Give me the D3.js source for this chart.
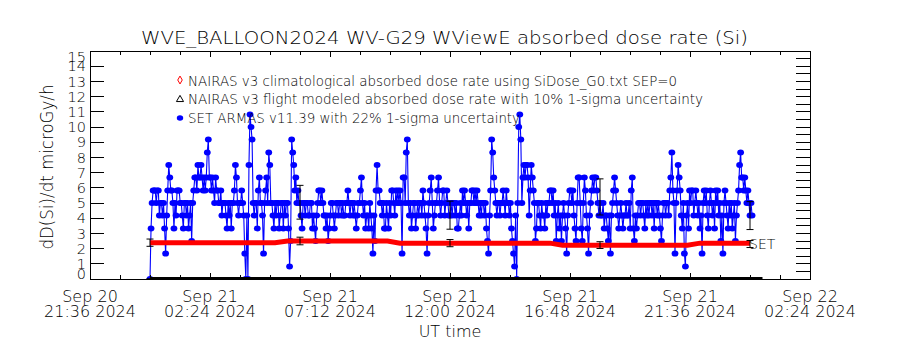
<!DOCTYPE html>
<html lang="en">
<head>
<meta charset="UTF-8">
<title>WVE_BALLOON2024 WV-G29 absorbed dose rate</title>
<script src="https://d3js.org/d3.v7.min.js"></script>
<style>
  body { margin: 0; background: #fff; }
  text { font-family: "DejaVu Sans", sans-serif; font-weight: 200; fill: #000; }
</style>
</head>
<body>
<script>
// SET ARMAS dose rate, microGy/h, one value every 2.5 min from Sep 21 00:00 UT
const setDose = [
  // 00 UT
  0, 3.33, 5, 5.83, 5.83, 5.83, 5, 5.83, 5.83, 4.17, 5, 5, 4.17, 5, 3.33, 1.67, 4.17, 5.83, 7.5, 6.67, 5.83, 5.83, 5, 3.33,
  // 01
  5, 4.17, 5.83, 5.83, 5.83, 5, 5, 4.17, 3.33, 5, 5, 4.17, 5, 3.33, 4.17, 5, 2.5, 5, 5.83, 6.67, 6.67, 5.83, 7.5, 6.67,
  // 02
  6.67, 7.5, 6.67, 5.83, 6.67, 5.83, 6.67, 8.33, 9.17, 6.67, 6.67, 5.83, 6.67, 5.83, 5, 6.67, 5.83, 5.83, 5, 5, 5.83, 4.17, 5, 5,
  // 03
  5, 4.17, 3.33, 5, 4.17, 5, 3.33, 5, 5, 5.83, 7.5, 6.67, 5, 4.17, 5, 5, 5.83, 5, 4.17, 1.67, 0, 4.17, 0, 7.5,
  // 04
  10.83, 10, 9.17, 5, 4.17, 5, 5, 3.33, 5.83, 6.67, 5, 5, 4.17, 1.67, 5, 5.83, 6.67, 5, 8.33, 7.5, 5, 5, 4.17, 3.33,
  // 05
  5, 4.17, 5, 5, 3.33, 4.17, 5, 5, 3.33, 5, 4.17, 5, 5, 3.33, 0.83, 2.5, 9.17, 8.33, 7.5, 5.83, 6.67, 5, 5.83, 5,
  // 06
  5, 4.17, 3.33, 5, 5, 4.17, 5, 5, 4.17, 4.17, 5, 5, 3.33, 4.17, 3.33, 2.5, 4.17, 5, 5.83, 5.83, 5, 5.83, 5, 4.17,
  // 07
  4.17, 3.33, 4.17, 2.5, 3.33, 4.17, 5, 5, 4.17, 3.33, 4.17, 5, 5, 4.17, 5, 5, 4.17, 5, 4.17, 4.17, 5, 5, 5.83, 5,
  // 08
  4.17, 5, 5, 4.17, 5, 4.17, 3.33, 4.17, 5, 5, 5.83, 6.67, 5, 4.17, 5, 3.33, 4.17, 4.17, 3.33, 5, 4.17, 3.33, 1.67, 4.17,
  // 09
  2.5, 5.83, 7.5, 5.83, 5.83, 5, 5, 4.17, 5, 3.33, 3.33, 5, 4.17, 3.33, 5, 4.17, 5.83, 5.83, 5, 4.17, 5.83, 5, 5.83, 5,
  // 10
  5.83, 5, 1.67, 6.67, 6.67, 5, 8.33, 9.17, 5, 4.17, 5, 3.33, 4.17, 5, 5, 3.33, 4.17, 5, 4.17, 5, 5, 4.17, 5.83, 5,
  // 11
  4.17, 3.33, 1.67, 4.17, 5, 5.83, 6.67, 5, 3.33, 4.17, 5, 5, 5.83, 6.67, 5, 4.17, 5, 5.83, 5.83, 4.17, 5, 5.83, 5, 4.17,
  // 12
  4.17, 5, 4.17, 5, 5, 4.17, 5, 3.33, 3.33, 4.17, 5, 4.17, 5.83, 5, 5.83, 5, 4.17, 5, 3.33, 5, 5, 5.83, 5.83, 5,
  // 13
  5.83, 5, 5.83, 5, 4.17, 5, 4.17, 5, 5, 4.17, 5, 3.33, 2.5, 1.67, 4.17, 5.83, 9.17, 8.33, 6.67, 5.83, 5, 4.17, 5, 5,
  // 14
  4.17, 5, 5, 5.83, 5, 4.17, 5.83, 5, 5, 4.17, 5, 3.33, 2.5, 1.67, 0.83, 4.17, 0, 5, 10, 10.83, 9.17, 5, 6.67, 7.5,
  // 15
  6.67, 7.5, 7.5, 6.67, 4.17, 5.83, 7.5, 6.67, 5.83, 5, 2.5, 3.33, 5, 5, 4.17, 3.33, 5, 4.17, 4.17, 3.33, 5, 4.17, 5, 5,
  // 16
  5.83, 5.83, 5, 5.83, 4.17, 5, 2.5, 4.17, 5, 3.33, 4.17, 2.5, 4.17, 5, 4.17, 3.33, 1.67, 4.17, 5, 5.83, 5.83, 5, 5.83, 4.17,
  // 17
  3.33, 2.5, 5, 6.67, 6.67, 5, 3.33, 2.5, 5, 6.67, 5.83, 4.17, 3.33, 1.67, 4.17, 5, 5.83, 6.67, 5.83, 6.67, 6.67, 5.83, 5, 4.17,
  // 18
  5, 4.17, 4.17, 5, 3.33, 4.17, 4.17, 3.33, 2.5, 4.17, 1.67, 4.17, 5, 5.83, 6.67, 5.83, 5, 4.17, 3.33, 4.17, 5, 4.17, 3.33, 4.17,
  // 19
  4.17, 5, 4.17, 4.17, 5, 3.33, 5.83, 6.67, 3.33, 2.5, 4.17, 3.33, 4.17, 5, 5, 4.17, 5, 5, 4.17, 3.33, 5, 4.17, 5, 4.17,
  // 20
  5, 5, 4.17, 5, 3.33, 5, 5, 4.17, 5, 4.17, 3.33, 2.5, 4.17, 5, 5, 4.17, 5, 5, 4.17, 5.83, 6.67, 8.33, 5.83, 5,
  // 21
  1.67, 5, 5.83, 7.5, 6.67, 5.83, 4.17, 3.33, 5, 1.67, 0.83, 4.17, 5, 3.33, 5.83, 5, 5.83, 5.83, 4.17, 5, 5.83, 5, 4.17, 5,
  // 22
  3.33, 4.17, 1.67, 5, 5.83, 5, 5.83, 4.17, 3.33, 5, 5.83, 5, 4.17, 5, 3.33, 5.83, 5, 5.83, 4.17, 5, 2.5, 4.17, 1.67, 5,
  // 23
  5.83, 5, 4.17, 3.33, 5, 4.17, 5, 3.33, 4.17, 5, 2.5, 4.17, 5, 5.83, 7.5, 8.33, 6.67, 6.67, 5.83, 6.67, 5.83, 5, 5.83, 5,
  // 00 Sep 22
  4.17, 5, 4.17
];

// NAIRAS climatological (red), every 30 min from Sep 21 00:00 UT
const nairasClim = [
  2.39, 2.39, 2.39, 2.39, 2.39, 2.39, 2.39, 2.39, 2.39, 2.39, 2.39,
  2.5, 2.5, 2.5, 2.5, 2.5, 2.5, 2.5, 2.5, 2.5,
  2.36, 2.36, 2.36, 2.36, 2.36, 2.36, 2.36, 2.36, 2.36, 2.36, 2.36, 2.36, 2.36,
  2.22, 2.22, 2.22, 2.22, 2.22, 2.22, 2.22, 2.22, 2.22, 2.22, 2.22,
  2.36, 2.36, 2.36, 2.36, 2.36
];

// NAIRAS flight modeled (black), every 30 min
const nairasFlight = [
  0, 0, 0, 0, 0, 0, 0, 0, 0, 0, 0, 0, 0, 0, 0, 0, 0, 0, 0, 0, 0, 0, 0, 0, 0,
  0, 0, 0, 0, 0, 0, 0, 0, 0, 0, 0, 0, 0, 0, 0, 0, 0, 0, 0, 0, 0, 0, 0, 0, 0
];

// error bars every 6 h
const errHours = [0, 6, 12, 18, 24];
const setMean = [0, 5.05, 4.2, 5.4, 4.17];
const climMean = [2.39, 2.5, 2.36, 2.23, 2.3];
const setSigma = 0.22, climSigma = 0.10;

const yTicks = d3.range(0, 16);
const legendLabels = [
  "NAIRAS v3 climatological absorbed dose rate using SiDose_G0.txt SEP=0",
  "NAIRAS v3 flight modeled absorbed dose rate with 10% 1-sigma uncertainty",
  "SET ARMAS v11.39 with 22% 1-sigma uncertainty"
];

const width = 900, height = 350;
const pLeft = 90, pRight = 810, pTop = 51, pBottom = 279;
const MIN = 60000;
const axisStart = Date.UTC(2024, 8, 20, 21, 36);
const axisEnd = Date.UTC(2024, 8, 22, 2, 24);
const t0 = Date.UTC(2024, 8, 21, 0, 0);

const svg = d3.select("body").append("svg")
    .attr("width", width)
    .attr("height", height);

const x = d3.scaleUtc().domain([axisStart, axisEnd]).range([pLeft, pRight]);
const y = d3.scaleLinear().domain([0, 15]).range([pBottom, pTop]);

svg.append("clipPath").attr("id", "plotclip")
  .append("rect")
    .attr("x", pLeft).attr("y", pTop)
    .attr("width", pRight - pLeft).attr("height", pBottom - pTop + 0.5);

const plot = svg.append("g").attr("clip-path", "url(#plotclip)");

const setData = setDose.map((v, i) => ({t: new Date(t0 + i * 2.5 * MIN), v: v}));
const climData = nairasClim.map((v, i) => ({t: new Date(t0 + i * 30 * MIN), v: v}));
const flightData = nairasFlight.map((v, i) => ({t: new Date(t0 + i * 30 * MIN), v: v}));

const line = d3.line().x(d => x(d.t)).y(d => y(d.v));

// SET ARMAS
plot.append("path")
    .datum(setData)
    .attr("d", line)
    .attr("fill", "none")
    .attr("stroke", "#0000ff")
    .attr("stroke-width", 1.1);

plot.selectAll("ellipse.set")
    .data(setData)
    .enter().append("ellipse")
    .attr("class", "set")
    .attr("cx", d => x(d.t))
    .attr("cy", d => y(d.v))
    .attr("rx", 3.4)
    .attr("ry", 3)
    .attr("fill", "#0000ff");

// NAIRAS climatological
plot.append("path")
    .datum(climData)
    .attr("d", line)
    .attr("fill", "none")
    .attr("stroke", "#ff0000")
    .attr("stroke-width", 5);

// NAIRAS flight modeled
plot.append("path")
    .datum(flightData)
    .attr("d", line)
    .attr("fill", "none")
    .attr("stroke", "#000")
    .attr("stroke-width", 4);

// error bars
function errorBars(means, sigma) {
  means.forEach((m, i) => {
    const xi = x(new Date(t0 + errHours[i] * 60 * MIN));
    const lo = y(m * (1 - sigma)), hi = y(m * (1 + sigma));
    const g = plot.append("g").attr("stroke", "#000").attr("stroke-width", 1);
    g.append("line").attr("x1", xi).attr("x2", xi).attr("y1", lo).attr("y2", hi);
    g.append("line").attr("x1", xi - 3.5).attr("x2", xi + 3.5).attr("y1", lo).attr("y2", lo);
    g.append("line").attr("x1", xi - 3.5).attr("x2", xi + 3.5).attr("y1", hi).attr("y2", hi);
  });
}
errorBars(setMean, setSigma);
errorBars(climMean, climSigma);

// SET label at the end of the red curve
const lastClim = climData[climData.length - 1];
svg.append("text")
    .attr("x", x(lastClim.t) - 1)
    .attr("y", y(lastClim.v) + 5.5)
    .attr("font-size", 14)
    .text("SET");

// axes box
svg.append("rect")
    .attr("x", pLeft).attr("y", pTop)
    .attr("width", pRight - pLeft).attr("height", pBottom - pTop)
    .attr("fill", "none").attr("stroke", "#000").attr("stroke-width", 1)
    .attr("shape-rendering", "crispEdges");

const ticks = svg.append("g").attr("stroke", "#000").attr("stroke-width", 1)
    .attr("shape-rendering", "crispEdges");

// y ticks: left every unit, right every half unit
ticks.selectAll("line.yl").data(yTicks).enter().append("line")
    .attr("x1", pLeft).attr("x2", pLeft + 14)
    .attr("y1", d => y(d)).attr("y2", d => y(d));
ticks.selectAll("line.yr").data(d3.range(0, 15.5, 0.5)).enter().append("line")
    .attr("x1", pRight).attr("x2", pRight - 14)
    .attr("y1", d => y(d)).attr("y2", d => y(d));

// x ticks: minor every 72 min, major every 4.8 h
const xMinor = d3.range(0, 25).map(k => ({t: new Date(axisStart + k * 72 * MIN), major: k % 4 === 0}));
ticks.selectAll("line.xb").data(xMinor).enter().append("line")
    .attr("x1", d => x(d.t)).attr("x2", d => x(d.t))
    .attr("y1", pBottom).attr("y2", d => pBottom - (d.major ? 6 : 4));
ticks.selectAll("line.xt").data(xMinor).enter().append("line")
    .attr("x1", d => x(d.t)).attr("x2", d => x(d.t))
    .attr("y1", pTop).attr("y2", d => pTop + (d.major ? 6 : 4));

// y tick labels (end labels pulled inside the axis range)
svg.selectAll("text.ytick").data(yTicks).enter().append("text")
    .attr("class", "ytick")
    .attr("x", pLeft - 4)
    .attr("y", d => Math.min(Math.max(y(d), pTop + 5.5), pBottom - 5.5) + 5.2)
    .attr("text-anchor", "end")
    .attr("font-size", 14.5)
    .text(d => d);

// x tick labels
const fmtDay = d3.utcFormat("%b %d"), fmtTime = d3.utcFormat("%H:%M %Y");
const xMajor = xMinor.filter(d => d.major);
const xl = svg.selectAll("g.xtick").data(xMajor).enter().append("g")
    .attr("transform", d => `translate(${x(d.t)},0)`);
xl.append("text").attr("y", 301.5).attr("text-anchor", "middle")
    .attr("font-size", 16).text(d => fmtDay(d.t));
xl.append("text").attr("y", 316.5).attr("text-anchor", "middle")
    .attr("font-size", 16).text(d => fmtTime(d.t));

// axis titles
svg.append("text")
    .attr("x", 450).attr("y", 337)
    .attr("text-anchor", "middle")
    .attr("font-size", 16)
    .text("UT time");

svg.append("text")
    .attr("transform", "translate(53,167) rotate(-90)")
    .attr("text-anchor", "middle")
    .attr("font-size", 17)
    .attr("textLength", 165)
    .attr("lengthAdjust", "spacingAndGlyphs")
    .text("dD(Si)/dt microGy/h");

svg.append("text")
    .attr("x", 141).attr("y", 44)
    .attr("font-size", 18)
    .attr("textLength", 607)
    .attr("lengthAdjust", "spacingAndGlyphs")
    .text("WVE_BALLOON2024 WV-G29 WViewE absorbed dose rate (Si)");

// legend
const legendWidths = [489, 515, 332];
const legend = svg.append("g");
legendLabels.forEach((lab, i) => {
  const ly = 80 + i * 18.9;
  legend.append("text")
      .attr("x", 188).attr("y", ly + 5.5)
      .attr("font-size", 13.5)
      .attr("textLength", legendWidths[i])
      .attr("lengthAdjust", "spacingAndGlyphs")
      .text(lab);
});
legend.append("path")
    .attr("transform", "translate(180,80)")
    .attr("d", d3.symbol(d3.symbolDiamond, 18)())
    .attr("fill", "none").attr("stroke", "#ff0000").attr("stroke-width", 1);
legend.append("path")
    .attr("transform", "translate(180,99.5)")
    .attr("d", d3.symbol(d3.symbolTriangle, 22)())
    .attr("fill", "none").attr("stroke", "#000").attr("stroke-width", 1);
legend.append("ellipse")
    .attr("cx", 180).attr("cy", 118).attr("rx", 3.2).attr("ry", 2.8)
    .attr("fill", "#0000ff");
</script>
</body>
</html>
